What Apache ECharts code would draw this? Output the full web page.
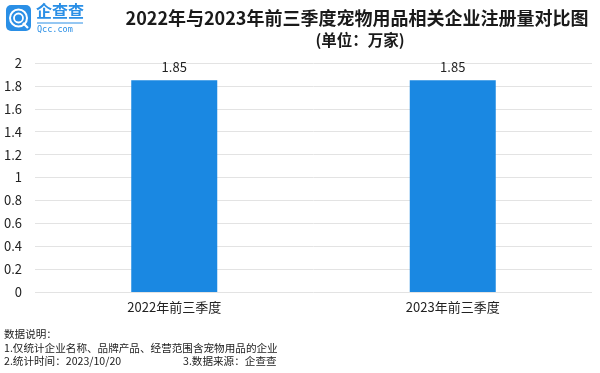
<!DOCTYPE html>
<html><head><meta charset="utf-8">
<script src="https://cdn.jsdelivr.net/npm/echarts@6/dist/echarts.min.js"></script>
<style>html,body{margin:0;padding:0;background:#fff}#c{width:600px;height:373px}</style>
</head><body><div id="c"></div>
<script>
const categories = ['2022年前三季度', '2023年前三季度'];
const values = [1.85, 1.85];
const yTicks = [0, 0.2, 0.4, 0.6, 0.8, 1, 1.2, 1.4, 1.6, 1.8, 2];
const titleText = '2022年与2023年前三季度宠物用品相关企业注册量对比图';
const subtitleText = '(单位：万家)';
const notes = ['数据说明：', '1.仅统计企业名称、品牌产品、经营范围含宠物用品的企业', '2.统计时间：2023/10/20', '3.数据来源：企查查'];

const font = '"Noto Sans CJK SC", "Noto Sans", sans-serif';
const chart = echarts.init(document.getElementById('c'));
chart.setOption({
  backgroundColor: '#fff',
  animation: false,
  title: [
    {text: titleText, left: 352, textAlign: 'center', top: 4,
     textStyle: {fontSize: 18, fontWeight: 'bold', color: '#1a1a1a', fontFamily: font}},
    {text: subtitleText, left: 355, textAlign: 'center', top: 27,
     textStyle: {fontSize: 15.5, fontWeight: 'bold', color: '#1a1a1a', fontFamily: font}}
  ],
  grid: {left: 35, right: 8, top: 63, bottom: 81, containLabel: false},
  xAxis: {
    type: 'category', data: categories,
    axisLine: {show: false}, axisTick: {show: false},
    axisLabel: {fontSize: 13, color: '#222', margin: 9, fontFamily: font}
  },
  yAxis: {
    type: 'value', min: yTicks[0], max: yTicks[yTicks.length - 1], interval: 0.2,
    axisLine: {show: false}, axisTick: {show: false},
    axisLabel: {fontSize: 13, color: '#222', margin: 13, fontFamily: font},
    splitLine: {lineStyle: {color: '#e3e3e3', width: 1}}
  },
  series: [{
    type: 'bar', data: values, barWidth: 86,
    itemStyle: {color: '#1a88e2'},
    label: {show: true, position: 'top', fontSize: 13, color: '#222', distance: 7, fontFamily: font}
  }],
  graphic: [
    {type: 'rect', shape: {x: 6, y: 5, width: 25, height: 26, r: 5}, style: {fill: '#2a8fe6'}},
    {type: 'circle', shape: {cx: 18.5, cy: 18, r: 8.5}, style: {fill: 'none', stroke: '#fff', lineWidth: 2}},
    {type: 'circle', shape: {cx: 18.5, cy: 18, r: 4.5}, style: {fill: 'none', stroke: '#fff', lineWidth: 1.8}},
    {type: 'line', shape: {x1: 23, y1: 23, x2: 28, y2: 28}, style: {stroke: '#fff', lineWidth: 2.2}},
    {type: 'text', left: 36, top: 3, style: {text: '企查查', fill: '#2a8fe6', font: 'bold 16px ' + font}},
    {type: 'line', shape: {x1: 37, y1: 23, x2: 83, y2: 23}, style: {stroke: '#2a8fe6', lineWidth: 1}},
    {type: 'text', left: 37, top: 25, style: {text: 'Qcc.com', fill: '#2a8fe6', font: '8.5px "DejaVu Sans Mono", monospace'}},
    {type: 'text', left: 4, top: 329, style: {text: notes[0], fill: '#222', font: '10.6px ' + font}},
    {type: 'text', left: 4, top: 343, style: {text: notes[1], fill: '#222', font: '10.6px ' + font}},
    {type: 'text', left: 4, top: 356, style: {text: notes[2], fill: '#222', font: '10.6px ' + font}},
    {type: 'text', left: 183, top: 356, style: {text: notes[3], fill: '#222', font: '10.6px ' + font}}
  ]
});
</script></body></html>
